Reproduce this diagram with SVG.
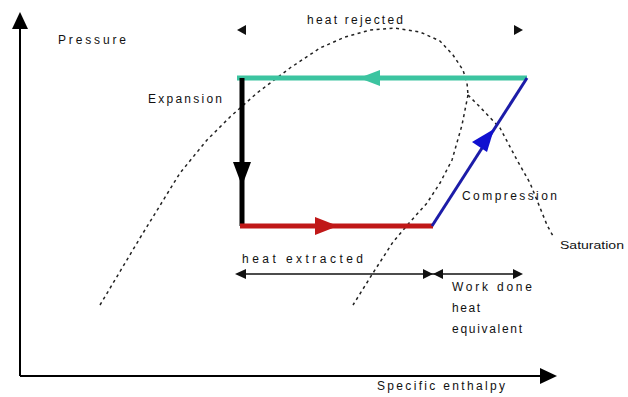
<svg xmlns="http://www.w3.org/2000/svg" width="628" height="397" viewBox="0 0 628 397">
<style>
text{font-family:"Liberation Sans",Arial,sans-serif;font-size:12px;fill:#111}
.dot{fill:none;stroke:#222;stroke-width:1.5;stroke-dasharray:3 3.5}
.ax{stroke:#000;stroke-width:2;fill:none}
.dim{stroke:#111;stroke-width:1.5;fill:none}
</style>
<rect width="628" height="397" fill="#fff"/>
<g id="axes">
<line class="ax" x1="20" y1="376" x2="20" y2="26"/>
<polygon points="20,12 12,29 28,29" fill="#000"/>
<line class="ax" x1="20" y1="376" x2="542" y2="376"/>
<polygon points="557,376 540,368 540,384" fill="#000"/>
</g>
<g id="saturation-dome">
<polyline class="dot" points="100,305 140,238 180,173 207,140 230,117 257,93 290,68 320,48 345,37 370,30 395,28 420,32 440,41 453,55 463,70 467,83 468,95"/>
<polyline class="dot" points="468,95 462,125 452,160 440,183 427,203 410,222 393,242 373,273 353,305"/>
<polyline class="dot" points="468,95 478,105 500,128 517,160 530,183 547,225 553,236"/>
</g>
<g id="connectors">
<line x1="237" y1="78" x2="527" y2="78" stroke="#3cc4a0" stroke-width="5"/>
<polygon points="359,78 380,70 380,86" fill="#3cc4a0"/>
<line x1="242" y1="78" x2="242" y2="226" stroke="#000" stroke-width="5"/>
<polygon points="242,186 233,162 251,162" fill="#000"/>
<line x1="240" y1="226" x2="433" y2="226" stroke="#c01818" stroke-width="5"/>
<polygon points="338,226 315,217 315,235" fill="#c01818"/>
<line x1="432" y1="226" x2="527" y2="78" stroke="#1c1ca8" stroke-width="3"/>
<polygon points="494,129 472,142 487,152" fill="#1010d0"/>
</g>
<g id="dimensions">
<polygon points="237,30 246,25 246,35" fill="#111"/>
<polygon points="523,30 514,25 514,35" fill="#111"/>
<line class="dim" x1="240" y1="274" x2="520" y2="274"/>
<polygon points="235,274 246,269 246,279" fill="#111"/>
<polygon points="433,274 423,269 423,279" fill="#111"/>
<polygon points="433,274 443,269 443,279" fill="#111"/>
<polygon points="523,274 513,269 513,279" fill="#111"/>
</g>
<g id="labels">
<text x="58" y="44" textLength="68" lengthAdjust="spacing">Pressure</text>
<text x="148" y="103" textLength="74" lengthAdjust="spacing">Expansion</text>
<text x="307" y="24" textLength="96" lengthAdjust="spacing">heat rejected</text>
<text x="462" y="200" textLength="95" lengthAdjust="spacing">Compression</text>
<text x="560" y="249" style="font-size:11px" textLength="64" lengthAdjust="spacingAndGlyphs">Saturation</text>
<text x="242" y="263" textLength="121" lengthAdjust="spacing">heat extracted</text>
<text x="452" y="291" textLength="80" lengthAdjust="spacing">Work done</text>
<text x="452" y="312" textLength="28" lengthAdjust="spacing">heat</text>
<text x="452" y="333" textLength="70" lengthAdjust="spacing">equivalent</text>
<text x="377" y="390" textLength="128" lengthAdjust="spacing">Specific enthalpy</text>
</g>
</svg>
